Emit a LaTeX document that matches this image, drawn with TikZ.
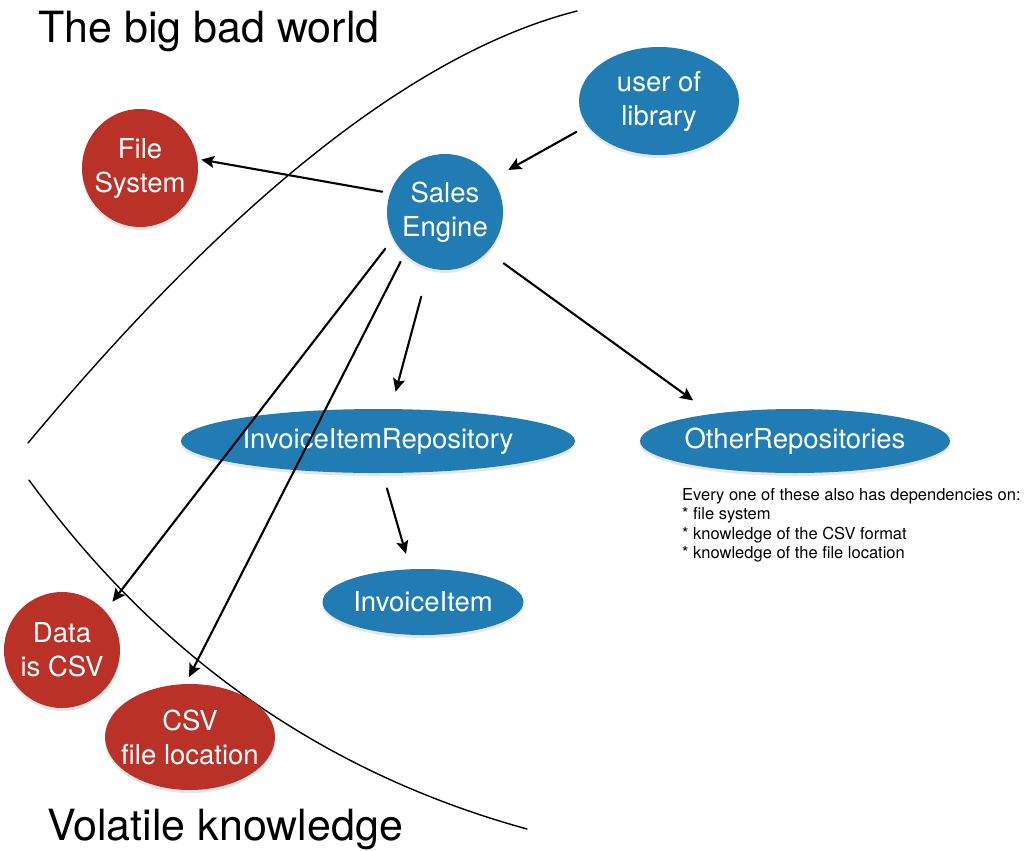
\documentclass[tikz,border=0pt]{standalone}
\usepackage{fontspec}
\setmainfont{TeX Gyre Heros}
\usepackage{pgf,tikz}
\usetikzlibrary{arrows.meta}
\usetikzlibrary{shapes.geometric}
\usetikzlibrary{shadows}
\definecolor{sisa}{RGB}{33,124,180}
\definecolor{ulko}{RGB}{186,49,40}

\begin{document}
\begin{tikzpicture}[line cap=round,line join=round,>={Stealth[length=13pt,width=12pt,inset=2.5pt]},x=1pt,y=-1pt,
  pallo/.style={ellipse,inner sep=0pt,outer sep=0pt,
    drop shadow={opacity=0.2,shadow xshift=0pt,shadow yshift=-3pt}},
  sisapallo/.style={pallo,fill=sisa},
  ulkopallo/.style={pallo,fill=ulko},
  nimi/.style={text=white,align=center,inner sep=0pt,font=\fontsize{27.5}{34}\selectfont},
  otsikko/.style={anchor=base west,inner sep=0pt,font=\fontsize{43}{50}\selectfont},
  riippuu/.style={->,line width=2.1pt},
  raja/.style={line width=1.4pt}]
\useasboundingbox (0,0) rectangle (1025,851);

%rajaviivat
\draw[raja] (577,11) .. controls (417.3,51.7) and (234.3,195.7) .. (28,443);
\draw[raja] (29,480) .. controls (157.7,656.7) and (323.7,773) .. (527,829);
\node[otsikko] (maailma) at (38,43) {The big bad world};
\node[otsikko] (tieto) at (47,840) {Volatile knowledge};

%solmut
\node[sisapallo,minimum width=160,minimum height=108,label={[nimi]center:user of\\library}] (ul) at (659,101) {};
\node[sisapallo,minimum width=116,minimum height=116,label={[nimi]center:Sales\\Engine}] (se) at (445,212) {};
\node[ulkopallo,minimum width=116,minimum height=118,label={[nimi]center:File\\System}] (fs) at (140,168) {};
\node[sisapallo,minimum width=394,minimum height=64,label={[nimi]center:InvoiceItemRepository}] (iir) at (378,441) {};
\node[sisapallo,minimum width=310,minimum height=64,label={[nimi]center:OtherRepositories}] (orp) at (795,441) {};
\node[sisapallo,minimum width=201,minimum height=66,label={[nimi]center:InvoiceItem}] (ii) at (423,602) {};
\node[ulkopallo,minimum width=116,minimum height=116,label={[nimi]center:Data\\is CSV}] (dc) at (62,650) {};
\node[ulkopallo,minimum width=170,minimum height=106,label={[nimi]center:CSV\\file location}] (cl) at (190,737) {};

\node[anchor=north west,align=left,inner sep=0pt,font=\fontsize{16.5}{19.5}\selectfont] (huom) at (682,488)
  {Every one of these also has dependencies on:\\{}* file system\\{}* knowledge of the CSV format\\{}* knowledge of the file location};

%nuolet
\draw[riippuu,shorten <=13pt,shorten >=18pt] (ul.199) -- (se.35);
\draw[riippuu,shorten <=8pt,shorten >=4pt] (se.161) -- (fs.9);
\draw[riippuu,shorten <=13pt,shorten >=12pt] (se.207) -- (dc.42);
\draw[riippuu,shorten <=9pt,shorten >=8pt] (se.226) -- (cl.95);
\draw[riippuu,shorten <=30pt,shorten >=18pt] (se.254) -- (iir.68);
\draw[riippuu,shorten <=20pt,shorten >=23pt] (se.-43) -- (orp.162);
\draw[riippuu,shorten <=16pt,shorten >=16pt] (iir.278) -- (ii.111);
\end{tikzpicture}
\end{document}
